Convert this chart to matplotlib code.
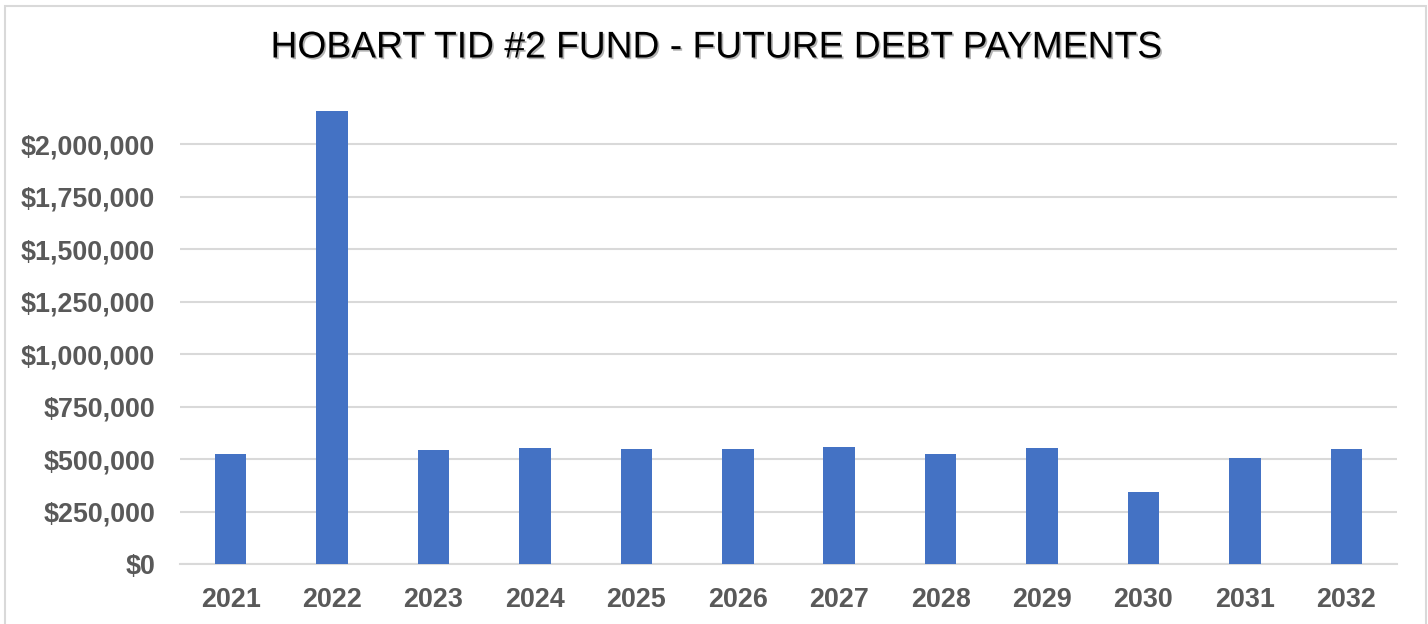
import matplotlib
matplotlib.use("Agg")
import matplotlib.pyplot as plt
import matplotlib.patheffects as pe
from matplotlib.patches import Rectangle
from matplotlib.ticker import FuncFormatter

# yearly debt payments
years = ["2021", "2022", "2023", "2024", "2025", "2026",
         "2027", "2028", "2029", "2030", "2031", "2032"]
payments = [525000, 2159000, 544000, 554000, 548000, 548000,
            560000, 525000, 555000, 346000, 505000, 548000]
yticks = [0, 250000, 500000, 750000, 1000000, 1250000, 1500000, 1750000, 2000000]

plt.rcParams['font.family'] = ['Liberation Sans', 'DejaVu Sans']

fig = plt.figure(figsize=(14.28, 6.24), dpi=100)
fig.patch.set_facecolor('white')

# light frame round the chart
fig.patches.append(Rectangle((5 / 1428, -0.01), 1421 / 1428, 1 - 6 / 624 + 0.01,
                             transform=fig.transFigure, fill=False,
                             edgecolor='#d9d9d9', linewidth=1.5))

ax = fig.add_axes([180 / 1428, 1 - 564.3 / 624, 1217 / 1428, 472.5 / 624])
x = range(len(years))
ax.bar(x, payments, width=0.31, color='#4472C4', zorder=3)

ax.set_xlim(-0.5, len(years) - 0.5)
ax.set_ylim(0, 2250000)
ax.set_yticks(yticks)
ax.yaxis.set_major_formatter(FuncFormatter(lambda v, p: '${:,.0f}'.format(v)))
ax.set_xticks(list(x))
ax.set_xticklabels(years)

ax.grid(axis='y', color='#d9d9d9', linewidth=1.5, zorder=0)
for s in ['top', 'right', 'left']:
    ax.spines[s].set_visible(False)
ax.spines['bottom'].set_color('#d9d9d9')
ax.spines['bottom'].set_linewidth(1.5)
ax.tick_params(axis='both', length=0, labelsize=19.4, labelcolor='#595959')
ax.tick_params(axis='y', pad=18)
ax.tick_params(axis='x', pad=16)
for lbl in ax.get_xticklabels() + ax.get_yticklabels():
    lbl.set_fontweight('bold')

title = fig.text(716 / 1428, 1 - 48 / 624, 'HOBART TID #2 FUND - FUTURE DEBT PAYMENTS',
                 ha='center', va='center', fontsize=26.8, color='black')
title.set_path_effects([pe.withSimplePatchShadow(offset=(1.2, -1.2), shadow_rgbFace='#555555', alpha=0.45)])

fig.savefig('out.png', dpi=100, facecolor='white')
